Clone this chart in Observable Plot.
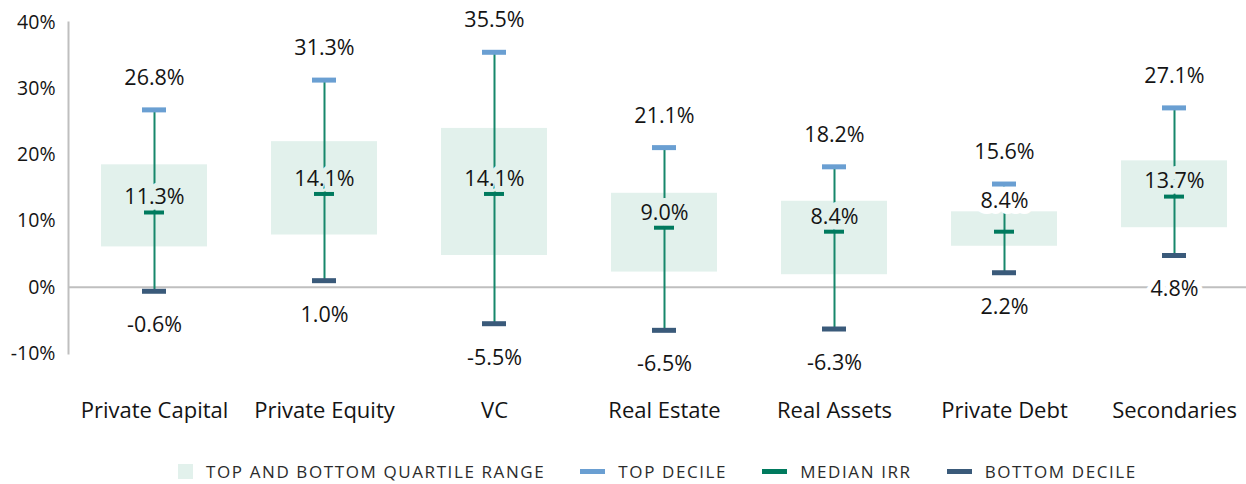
<!DOCTYPE html>
<html>
<head>
<meta charset="utf-8">
<script src="https://cdn.jsdelivr.net/npm/d3@7"></script>
<script src="https://cdn.jsdelivr.net/npm/@observablehq/plot@0.6"></script>
<style>
  html, body { margin: 0; padding: 0; background: #fff; }
  body { font-family: "Open Sans", sans-serif; width: 1246px; }
  #chart { position: relative; width: 1246px; height: 484px; }
  #legend { position: absolute; top: 463px; left: 178px; display: flex; align-items: center;
            font-size: 17px; line-height: 17px; letter-spacing: 1.6px; color: #2b2b2b; white-space: nowrap; }
  .item { display: flex; align-items: center; margin-right: 35px; }
  .sw { display: inline-block; margin-right: 13px; }
  .sq { width: 15px; height: 15px; }
  .dash { width: 25px; height: 5px; }
</style>
</head>
<body>
<div id="chart"><div id="legend"></div></div>
<script>
const categories = ["Private Capital", "Private Equity", "VC", "Real Estate", "Real Assets", "Private Debt", "Secondaries"];
const topDecile     = [26.8, 31.3, 35.5, 21.1, 18.2, 15.6, 27.1];
const upperQuartile = [18.5, 22.0, 24.0, 14.2, 13.0, 11.4, 19.1];
const medianIRR     = [11.3, 14.1, 14.1, 9.0, 8.4, 8.4, 13.7];
const lowerQuartile = [6.1, 7.9, 4.8, 2.3, 1.9, 6.2, 9.0];
const bottomDecile  = [-0.6, 1.0, -5.5, -6.5, -6.3, 2.2, 4.8];
const yTicks = [-10, 0, 10, 20, 30, 40];
const legendLabels = ["TOP AND BOTTOM QUARTILE RANGE", "TOP DECILE", "MEDIAN IRR", "BOTTOM DECILE"];

const colors = {
  box: "#E2F1EC",
  top: "#6A9FD2",
  median: "#007A5E",
  bottom: "#3A5A7A",
  whisker: "#16876B",
  axis: "#BFBFBF",
  text: "#141414"
};

const data = categories.map((c, i) => ({
  category: c,
  top: topDecile[i],
  q3: upperQuartile[i],
  median: medianIRR[i],
  q1: lowerQuartile[i],
  bottom: bottomDecile[i]
}));

const fmt = v => v.toFixed(1) + "%";
const labelFont = 21.5;

const chart = Plot.plot({
  width: 1246,
  height: 445,
  marginTop: 22,
  marginBottom: 92,
  marginLeft: 68,
  marginRight: 0,
  style: { fontFamily: "Open Sans, sans-serif", fontSize: "19px", color: colors.text, background: "#fff" },
  x: { domain: categories, range: [36, 1293], padding: 0.374, label: null },
  y: { domain: [-10, 40], ticks: yTicks, label: null },
  marks: [
    Plot.barY(data, { x: "category", y1: "q1", y2: "q3", fill: colors.box }),
    Plot.ruleY([0], { stroke: colors.axis, strokeWidth: 2 }),
    Plot.frame({ anchor: "left", stroke: colors.axis, strokeWidth: 2 }),
    Plot.ruleX(data, { x: "category", y1: "bottom", y2: "top", stroke: colors.whisker, strokeWidth: 2 }),
    // data labels with halos hiding the whisker beneath them
    Plot.text(data, { x: "category", y: "top", text: d => fmt(d.top), dy: -32, fontSize: labelFont,
      fill: colors.text, stroke: "white", strokeWidth: 10, paintOrder: "stroke" }),
    Plot.text(data, { x: "category", y: "bottom", text: d => fmt(d.bottom), dy: 34, fontSize: labelFont,
      fill: colors.text, stroke: "white", strokeWidth: 10, paintOrder: "stroke" }),
    Plot.text(data.filter(d => d.category !== "Private Debt"), { x: "category", y: "median", text: d => fmt(d.median),
      dy: -15, fontSize: labelFont, fill: colors.text, stroke: colors.box, strokeWidth: 12, paintOrder: "stroke" }),
    Plot.text(data.filter(d => d.category === "Private Debt"), { x: "category", y: "median", text: d => fmt(d.median),
      dy: -31, fontSize: labelFont, fill: colors.text, stroke: "white", strokeWidth: 12, paintOrder: "stroke" }),
    Plot.tickY(data, { x: "category", y: "top", stroke: colors.top, strokeWidth: 5, inset: 41 }),
    Plot.tickY(data, { x: "category", y: "bottom", stroke: colors.bottom, strokeWidth: 5, inset: 41 }),
    Plot.tickY(data, { x: "category", y: "median", stroke: colors.median, strokeWidth: 4, inset: 43 }),
    Plot.axisY({ ticks: yTicks, tickSize: 0, tickPadding: 13, tickFormat: d => d + "%", fontSize: 19.5, label: null }),
    Plot.axisX({ tickSize: 0, tickPadding: 49, fontSize: 22, label: null })
  ]
});
document.getElementById("chart").insertBefore(chart, document.getElementById("legend"));

const legendColors = [colors.box, colors.top, colors.median, colors.bottom];
const legend = d3.select("#legend");
legendLabels.forEach((t, i) => {
  const item = legend.append("div").attr("class", "item");
  item.append("span").attr("class", "sw " + (i === 0 ? "sq" : "dash")).style("background", legendColors[i]);
  item.append("span").text(t);
});
</script>
</body>
</html>
